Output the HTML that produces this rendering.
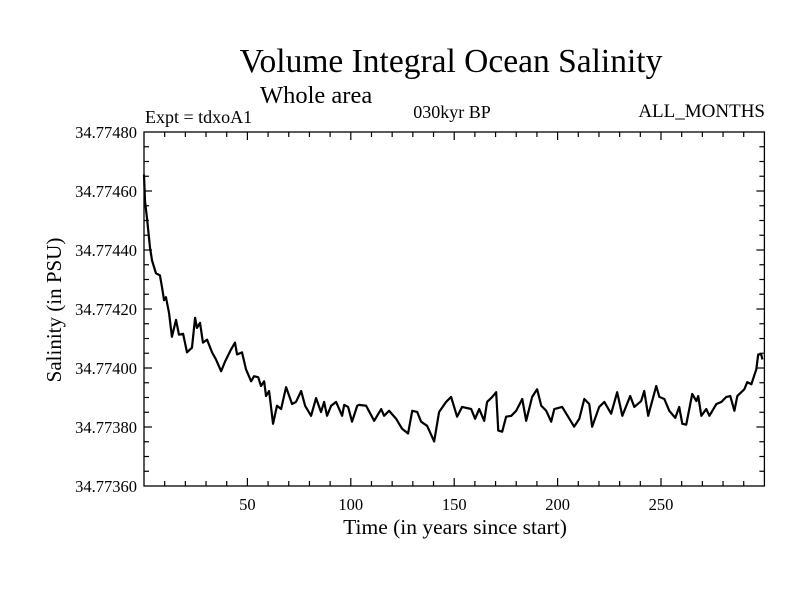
<!DOCTYPE html>
<html><head><meta charset="utf-8"><style>
body{margin:0;background:#fff;}
svg text{font-family:"Liberation Serif",serif;fill:#000;}
</style></head><body>
<svg id="chart" width="800" height="600" xmlns="http://www.w3.org/2000/svg">
<rect width="800" height="600" fill="#fff"/>
<text x="451" y="72" font-size="33.5" text-anchor="middle">Volume Integral Ocean Salinity</text>
<text x="260" y="103" font-size="24.5">Whole area</text>
<text x="145" y="123" font-size="18">Expt = tdxoA1</text>
<text x="452" y="118" font-size="18" text-anchor="middle">030kyr BP</text>
<text x="765" y="117" font-size="19" text-anchor="end">ALL_MONTHS</text>
<text transform="translate(61,310) rotate(-90)" font-size="21" text-anchor="middle">Salinity (in PSU)</text>
<text x="455" y="534" font-size="21.5" text-anchor="middle">Time (in years since start)</text>
<rect x="144" y="132" width="620.4" height="354" fill="none" stroke="#000" stroke-width="1.3"/>
<g id="ticks"></g>
<path id="series" fill="none" stroke="#000" stroke-width="2.2" stroke-linejoin="round"/>
</svg>
<script>
const years = [0,0.5,1.5,2.9,3.9,5.8,7.7,8.7,9.7,10.6,12.1,13.5,15.5,16.9,18.9,20.8,23.2,24.7,25.6,27.1,28.5,30.5,32.9,34.8,37.3,39.2,42.1,44.0,45.0,47.4,49.3,51.8,53.2,55.2,56.6,58.1,59.0,60.5,62.4,64.3,66.3,68.7,71.6,73.5,76.0,77.9,80.8,83.2,85.6,87.1,88.5,90.5,92.9,95.8,96.8,98.7,100.6,103.1,104.0,107.4,111.3,114.7,116.1,118.5,121.9,124.8,127.7,129.7,132.1,134.0,136.9,140.3,142.7,146.1,148.5,151.4,153.8,158.2,160.1,162.1,164.5,165.9,168.4,170.3,171.3,173.2,175.1,177.6,180.0,182.9,184.8,187.7,190.1,192.1,194.5,196.9,198.4,202.2,204.2,208.0,210.5,212.9,215.3,216.7,220.1,222.6,225.9,228.8,231.3,235.1,237.1,240.4,241.9,243.8,247.7,249.2,251.6,254.0,256.9,258.8,260.3,262.2,265.1,267.1,268.0,269.5,271.9,273.4,276.8,279.2,281.6,283.5,285.5,286.9,290.3,291.7,293.7,296.1,297.0,298.5,299.0];
const salinity = [34.774656,34.774565,34.774505,34.774408,34.774364,34.774321,34.774314,34.774274,34.77423,34.77424,34.774187,34.774106,34.774163,34.774113,34.774116,34.774053,34.774069,34.77417,34.774136,34.774153,34.774086,34.774096,34.774053,34.774029,34.773989,34.774022,34.774063,34.774086,34.774046,34.774053,34.773996,34.773955,34.773972,34.773969,34.773939,34.773955,34.773905,34.773922,34.773811,34.773872,34.773861,34.773935,34.773878,34.773885,34.773922,34.773872,34.773838,34.773898,34.773851,34.773885,34.773838,34.773872,34.773885,34.773838,34.773875,34.773868,34.773818,34.773872,34.773875,34.773872,34.773821,34.773861,34.773838,34.773855,34.773828,34.773794,34.773778,34.773855,34.773851,34.773818,34.773804,34.773751,34.773851,34.773885,34.773902,34.773835,34.773868,34.773861,34.773828,34.773861,34.773821,34.773885,34.773902,34.773918,34.773788,34.773784,34.773835,34.773838,34.773855,34.773895,34.773821,34.773902,34.773928,34.773872,34.773855,34.773818,34.773861,34.773868,34.773845,34.773801,34.773828,34.773895,34.773878,34.773801,34.773868,34.773885,34.773845,34.773918,34.773838,34.773905,34.773868,34.773888,34.773922,34.773838,34.773939,34.773902,34.773895,34.773855,34.773831,34.773868,34.773811,34.773808,34.773912,34.773888,34.773905,34.773838,34.773861,34.773838,34.773878,34.773885,34.773902,34.773905,34.773855,34.773905,34.773928,34.773952,34.773945,34.773996,34.774046,34.774046,34.774029];
const xTickLabels = [50,100,150,200,250];
const yTickLabels = ["34.77360","34.77380","34.77400","34.77420","34.77440","34.77460","34.77480"];

const X0=144, X1=764.4, Y0=486, Y1=132;
const xMin=0, xMax=300, yMin=34.7736, yMax=34.7748;
function xs(v){return X0+(v-xMin)/(xMax-xMin)*(X1-X0);}
function ys(v){return Y0-(v-yMin)/(yMax-yMin)*(Y0-Y1);}

const NS="http://www.w3.org/2000/svg";
const g=document.getElementById('ticks');
function line(x1,y1,x2,y2){const l=document.createElementNS(NS,'line');l.setAttribute('x1',x1);l.setAttribute('y1',y1);l.setAttribute('x2',x2);l.setAttribute('y2',y2);l.setAttribute('stroke','#000');l.setAttribute('stroke-width','1.2');g.appendChild(l);return l;}
for(let v=10;v<300;v+=10){
  const len=(v%50===0)?8:5;const x=xs(v);
  const a=line(x,Y0,x,Y0-len);
  
  
  const b=line(x,Y1,x,Y1+len);
  
  
}
xTickLabels.forEach(v=>{
  const t=document.createElementNS(NS,'text');
  t.setAttribute('x',xs(v));t.setAttribute('y',Y0+24);t.setAttribute('font-size','16.5');t.setAttribute('text-anchor','middle');
  t.textContent=v;
  
  
  g.appendChild(t);
});
for(let i=1;i<24;i++){
  const v=yMin+i*0.00005;const y=ys(v);const len=(i%4===0)?8:5;
  const a=line(X0,y,X0+len,y);
  
  
  const b=line(X1,y,X1-len,y);
  
  
}
yTickLabels.forEach(s=>{
  const t=document.createElementNS(NS,'text');
  t.setAttribute('x',X0-7);t.setAttribute('y',ys(parseFloat(s))+6);t.setAttribute('font-size','16.5');t.setAttribute('text-anchor','end');
  t.textContent=s;
  
  
  g.appendChild(t);
});
let d='';
years.forEach((yr,i)=>{d+=(i?'L':'M')+xs(yr).toFixed(2)+','+ys(salinity[i]).toFixed(2);});
document.getElementById('series').setAttribute('d',d);
</script>
</body></html>
